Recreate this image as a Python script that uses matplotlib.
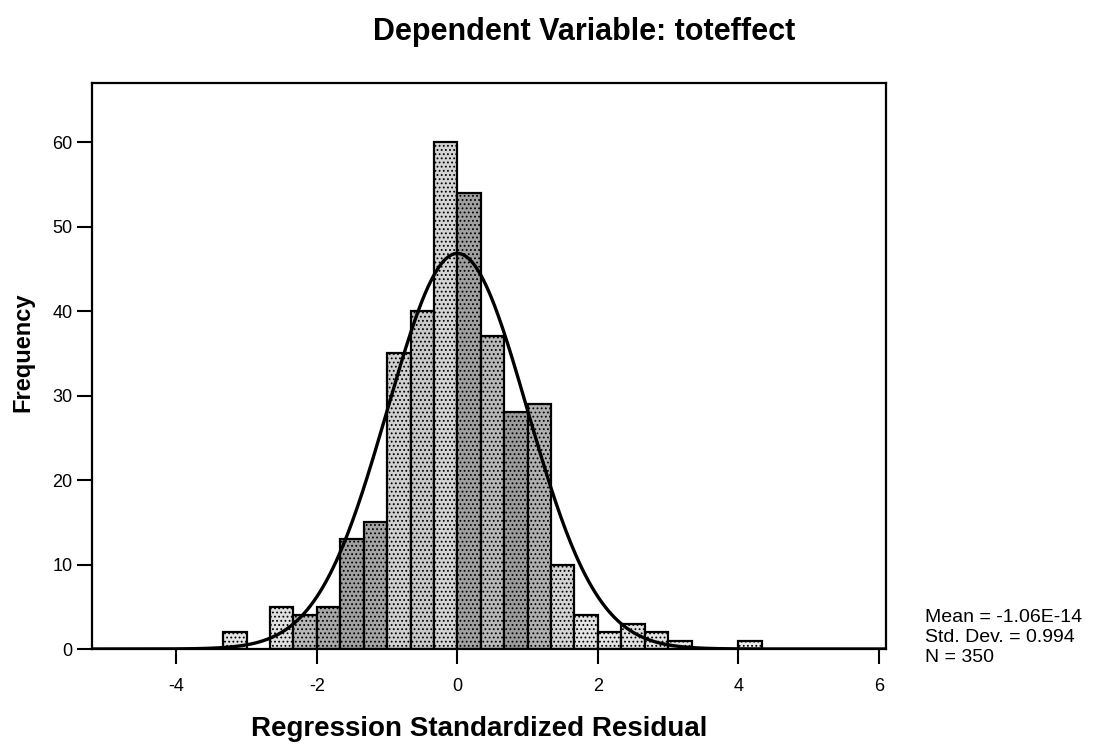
import numpy as np
import matplotlib
matplotlib.use('Agg')
from matplotlib import pyplot as plt

plt.rcParams['font.family'] = ['Liberation Sans', 'DejaVu Sans']
plt.rcParams['axes.unicode_minus'] = False
plt.rcParams['hatch.linewidth'] = 0.8

# histogram of regression standardized residuals (bin width 1/3)
first_edge = -10 / 3
bin_width = 1 / 3
counts = [2, 0, 5, 4, 5, 13, 15, 35, 40, 60, 54, 37, 28, 29, 10, 4, 2, 3, 2, 1, 0, 0, 1]

# summary stats shown in the chart
mean = -1.06e-14
std_dev = 0.994
n = 350

# stipple shade per bar (light / dark alternation in the scan)
shades = ['#e4e4e4', '#e4e4e4', '#e0e0e0', '#b8b8b8', '#a8a8a8', '#a0a0a0', '#a4a4a4',
          '#d0d0d0', '#c8c8c8', '#d4d4d4', '#a0a0a0', '#b8b8b8', '#9c9c9c', '#b0b0b0',
          '#d4d4d4', '#e4e4e4', '#e4e4e4', '#e0e0e0', '#e4e4e4', '#e8e8e8', '#fff', '#fff', '#eeeeee']

fig = plt.figure(figsize=(11.01, 7.51), dpi=100)
ax = fig.add_axes([92 / 1101, 1 - 649 / 751, (886 - 92) / 1101, (649 - 83) / 751])

lefts = first_edge + bin_width * np.arange(len(counts))
for x0, c, col in zip(lefts, counts, shades):
    if c == 0:
        continue
    ax.bar(x0, c, width=bin_width, align='edge', color=col, edgecolor='black',
           linewidth=1.6, hatch='....', zorder=2)

# normal curve from mean / sd
xs = np.linspace(-5.3, 6.2, 500)
ys = n * bin_width / (std_dev * np.sqrt(2 * np.pi)) * np.exp(-0.5 * ((xs - mean) / std_dev) ** 2)
ax.plot(xs, ys, color='black', linewidth=2.4, zorder=3)

ax.set_xlim(-5.2, 6.1)
ax.set_ylim(0, 67)
ax.set_xticks([-4, -2, 0, 2, 4, 6])
ax.set_yticks([0, 10, 20, 30, 40, 50, 60])
ax.tick_params(axis='x', direction='out', length=11, width=1.5, labelsize=13, pad=10)
ax.tick_params(axis='y', direction='out', length=11, width=1.5, labelsize=13, pad=3)
for s in ax.spines.values():
    s.set_linewidth(1.6)

fig.text(479 / 1101, 1 - 729 / 751, 'Regression Standardized Residual', fontsize=20,
         fontweight='bold', ha='center', va='center')
fig.text(23 / 1101, 1 - 352 / 751, 'Frequency', fontsize=17, fontweight='bold',
         rotation=90, ha='center', va='center')

fig.text(584 / 1101, 1 - 32 / 751, 'Dependent Variable: toteffect', fontsize=22,
         fontweight='bold', ha='center', va='center')

stats_txt = f'Mean = -1.06E-14\nStd. Dev. = {std_dev}\nN = {n}'
fig.text(925 / 1101, 1 - 609 / 751, stats_txt, fontsize=14, ha='left', va='top',
         linespacing=1.25)

fig.savefig('out.png', dpi=100)
